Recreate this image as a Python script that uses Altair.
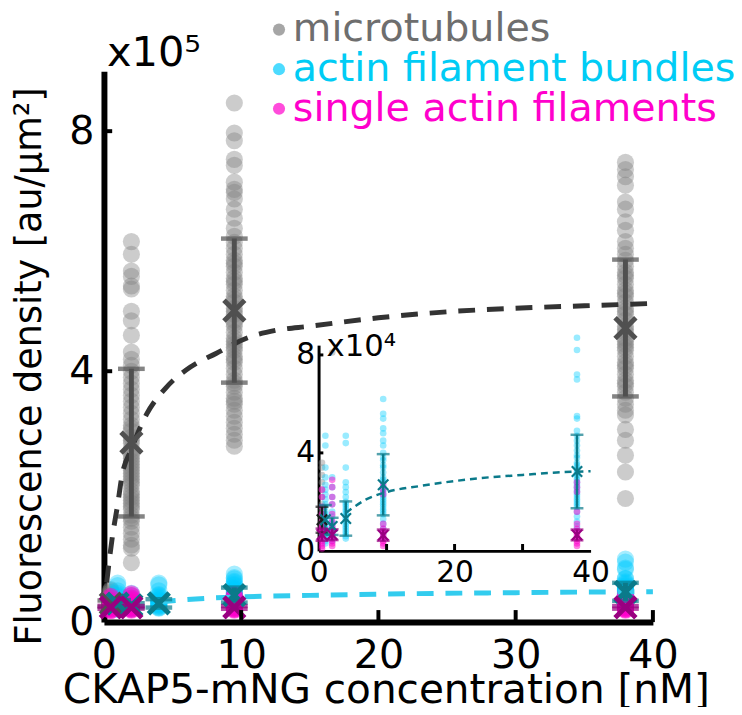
import altair as alt
import pandas as pd

FONT = "DejaVu Sans"

# ---------------- data: fluorescence density in units of 1e4 au/um^2 ----------------
series_names = ["microtubules", "actin filament bundles", "single actin filaments"]

# microtubules
mt_conc = [0.5, 2, 9.5, 38]
mt_c05 = [3.6, 3.4, 3.1, 2.8, 2.5, 2.2, 1.9, 1.7, 1.5, 1.4, 1.3, 1.2, 1.1, 1.0, 0.9, 0.8, 0.7, 0.6, 0.5]
mt_c2 = [61.6, 59.5, 56.7, 55.8, 54.2, 53.7, 50.0, 48.4, 46.0, 43.2, 42.0, 41.0, 40.0, 39.0, 38.0,
         37.0, 36.0, 35.0, 34.0, 33.0, 32.0, 31.0, 30.0, 29.0, 28.0, 27.0, 26.0, 25.0, 24.0, 23.0,
         22.0, 21.0, 20.0, 19.0, 18.0, 17.0, 16.0, 15.0, 14.0, 13.0, 12.0, 11.0, 10.5, 8.1, 28.5,
         25.5, 23.5, 21.5, 19.5, 17.5, 15.5, 26.5, 22.5, 18.5, 24.5, 30.5]
mt_c95 = [84.7, 79.7, 78.4, 75.3, 74.3, 71.5, 70.3, 69.8, 68.7, 67.0, 65.5, 63.8, 62.5, 61.5, 60.5,
          59.5, 58.5, 57.5, 56.5, 55.5, 54.5, 53.5, 52.5, 51.5, 50.5, 49.5, 48.5, 47.5, 46.5, 45.5,
          44.5, 43.5, 42.5, 41.5, 40.5, 39.5, 38.5, 37.5, 36.5, 35.5, 34.5, 33.5, 32.5, 31.5, 30.5,
          29.5, 28.5, 27.5, 55, 52, 48, 45, 42, 38, 35, 58, 50, 44]
mt_c38 = [74.8, 73.6, 72.4, 71.0, 68.2, 67.0, 64.9, 63.5, 61.6, 60.5, 59.5, 58.5, 57.5, 56.5, 55.5,
          54.5, 53.5, 52.5, 51.5, 50.5, 49.5, 48.5, 47.5, 46.5, 45.5, 44.5, 43.5, 42.5, 41.5, 40.5,
          39.5, 38.5, 37.5, 36.5, 35.5, 34.5, 33.5, 32.7, 30.3, 28.5, 26.0, 23.2, 18.8, 50, 47, 44,
          41, 53, 56, 38, 45]
mt_mean = [1.27, 28.1, 50.1, 47.2]
mt_sd = [0.53, 12.3, 12.0, 11.4]

# actin filament bundles
ab_conc = [1, 2, 4, 9.5, 38]
ab_c1 = [4.7, 4.3, 3.4, 3.0, 2.7, 2.5, 2.3, 2.1, 1.9, 1.8, 1.6, 1.5, 1.4, 1.3, 1.2, 1.1, 1.0, 0.9,
         0.8, 0.7, 0.6, 0.5, 0.4, 0.3]
ab_c2 = [3.0, 2.6, 2.2, 1.9, 1.6, 1.4, 1.2, 1.1, 1.0, 0.9, 0.8, 0.7, 0.6, 0.5, 0.4]
ab_c4 = [4.7, 4.4, 3.4, 2.8, 2.6, 2.4, 2.2, 2.0, 1.9, 1.8, 1.7, 1.6, 1.5, 1.4, 1.3, 1.2, 1.1, 1.0,
         0.9, 0.8, 0.7, 0.6, 0.5]
ab_c95 = [6.2, 5.6, 5.4, 5.0, 4.8, 4.5, 4.3, 4.0, 3.8, 3.7, 3.5, 3.4, 3.2, 3.0, 2.9, 2.8, 2.6, 2.5,
          2.4, 2.3, 2.2, 2.1, 2.0, 1.9, 1.8, 1.7, 1.6, 1.5, 1.3, 1.1, 0.9, 0.7, 0.5]
ab_c38 = [8.7, 8.2, 7.2, 7.0, 5.5, 5.4, 4.9, 4.7, 4.5, 4.3, 4.1, 3.9, 3.8, 3.6, 3.5, 3.4, 3.3, 3.2,
          3.1, 3.0, 2.9, 2.8, 2.7, 2.6, 2.5, 2.4, 2.3, 2.2, 2.1, 2.0, 1.9, 1.8, 1.6, 1.4, 1.2, 1.0, 0.8]
ab_mean = [1.27, 1.0, 1.32, 2.7, 3.24]
ab_sd = [0.6, 0.35, 0.7, 1.25, 1.5]

# single actin filaments
sf_conc = [0.5, 2, 9.5, 38]
sf_c05 = [2.5, 2.2, 1.8, 1.5, 1.2, 1.0, 0.9, 0.8, 0.7, 0.6, 0.5, 0.4, 0.3, 0.2, 0.1]
sf_c2 = [2.9, 2.6, 2.2, 1.9, 1.5, 1.2, 1.0, 0.9, 0.8, 0.7, 0.6, 0.5, 0.4, 0.3, 0.2]
sf_c95 = [2.7, 2.5, 2.3, 1.1, 0.9, 0.8, 0.7, 0.6, 0.5, 0.4, 0.3, 0.2]
sf_c38 = [2.8, 2.6, 2.4, 1.6, 1.1, 0.9, 0.8, 0.7, 0.6, 0.5, 0.4, 0.3, 0.2]
sf_mean = [0.66, 0.66, 0.64, 0.65]
sf_sd = [0.25, 0.22, 0.23, 0.22]

# fitted binding curves
fit_mt_x = [0.2, 0.6, 1.0, 1.3, 2.0, 3.1, 4.5, 6.3, 8.2, 10.5, 12.5, 15, 20, 25, 30, 35, 40]
fit_mt_y = [4.8, 12.2, 17.8, 22.4, 27.0, 32.8, 37.2, 40.7, 43.0, 45.6, 46.8, 47.5, 48.9, 49.9, 50.5, 50.9, 51.3]
fit_ab_x = [4, 5, 7, 10, 15, 20, 25, 30, 35, 40]
fit_ab_y = [1.55, 1.75, 2.1, 2.4, 2.65, 2.85, 3.0, 3.1, 3.2, 3.25]

# axis ticks
main_x_ticks = [0, 10, 20, 30, 40]
main_x_marks = [10, 20, 30, 40]
main_y_ticks = [0, 40, 80]          # shown as 0, 4, 8 (x10^5)
inset_x_ticks = [0, 20, 40]
inset_x_marks = [10, 20, 30]
inset_y_ticks = [0, 4, 8]

# ---------------- styles ----------------
point_colors = ["#808080", "#00ccff", "#ff00cc"]
label_colors = ["#6e6e6e", "#00ccf5", "#ff00cc"]
err_main_colors = {"microtubules": "#505050", "actin filament bundles": "#0b7a8a",
                   "single actin filaments": "#990080"}
err_inset_colors = {"microtubules": "#1a1a1a", "actin filament bundles": "#0b7a8a",
                    "single actin filaments": "#990080"}
XPATH = "M-1,-1L1,1M-1,1L1,-1"

# ---------------- tables ----------------
groups = [
    ("microtubules", mt_conc, [mt_c05, mt_c2, mt_c95, mt_c38], mt_mean, mt_sd),
    ("actin filament bundles", ab_conc, [ab_c1, ab_c2, ab_c4, ab_c95, ab_c38], ab_mean, ab_sd),
    ("single actin filaments", sf_conc, [sf_c05, sf_c2, sf_c95, sf_c38], sf_mean, sf_sd),
]
prow, srow = [], []
for name, concs, vals, means, sds in groups:
    for c, g, m, s in zip(concs, vals, means, sds):
        for v in g:
            prow.append({"series": name, "conc": c, "val": v})
        srow.append({"series": name, "conc": c, "mean": m, "lo": m - s, "hi": m + s})
pts = pd.DataFrame(prow)
summ = pd.DataFrame(srow)
summ["ecol"] = summ["series"].map(err_main_colors)
summ["icol"] = summ["series"].map(err_inset_colors)
fit_mt = pd.DataFrame({"x": fit_mt_x, "y": fit_mt_y})
fit_ab = pd.DataFrame({"x": fit_ab_x, "y": fit_ab_y})
annot5 = pd.DataFrame({"t": ["x10\u2075"]})
annot4 = pd.DataFrame({"t": ["x10\u2074"]})

# ---------------- main panel ----------------
W, H = 555, 557
YMIN = -1.8
xs_main = alt.Scale(domain=[0, 40], nice=False, zero=False)
ys_main = alt.Scale(domain=[YMIN, 90], nice=False, zero=False)

ax_x_main = alt.Axis(orient="bottom", values=main_x_ticks, ticks=False, grid=False, domainWidth=6,
                     domainColor="black", labelFont=FONT, labelFontSize=40, labelColor="black",
                     labelPadding=14, labelFlush=False, labelOverlap=False,
                     title="CKAP5-mNG concentration [nM]", titleFont=FONT, titleFontSize=41,
                     titleFontWeight="normal", titleColor="black", titleX=285, titleY=81,
                     titleBaseline="alphabetic")
ax_y_main = alt.Axis(orient="left", values=main_y_ticks, labelExpr="format(datum.value / 10, 'd')",
                     ticks=False, grid=False, domainWidth=6, domainColor="black", labelFont=FONT,
                     labelFontSize=40, labelColor="black", labelPadding=10, labelOverlap=False,
                     labelOffset={"condition": {"test": "datum.value == 0", "value": 11}, "value": 0},
                     title="Fluorescence density [au/\u03bcm\u00b2]", titleFont=FONT, titleFontSize=37,
                     titleFontWeight="normal", titleColor="black", titleX=-75, titleY=298,
                     titleAngle=-90, titleBaseline="middle", titleAlign="center")

lab_expr = ("datum.label == 'microtubules' ? '%s' : datum.label == 'actin filament bundles' ? '%s' : '%s'"
            % tuple(label_colors))
legend = alt.Legend(title=None, orient="none", legendX=157, legendY=-62, padding=0,
                    labelFont=FONT, labelFontSize=40, labelLimit=0,
                    labelOffset=alt.ExprRef(expr="-6"),
                    labelColor=alt.ExprRef(expr=lab_expr), symbolType="circle", symbolSize=150,
                    symbolOpacity=1, symbolStrokeWidth=0, rowPadding=0)
color_main = alt.Color("series:N", scale=alt.Scale(domain=series_names, range=point_colors),
                       legend=legend)


def main_points(name, op, first=False):
    return alt.Chart(pts[pts.series == name]).mark_circle(size=300, opacity=op).encode(
        x=alt.X("conc:Q", scale=xs_main, axis=ax_x_main if first else None),
        y=alt.Y("val:Q", scale=ys_main, axis=ax_y_main if first else None),
        color=color_main,
    )


mx = alt.X("conc:Q", scale=xs_main, axis=None)
fit_mt_main = alt.Chart(fit_mt).mark_line(color="#333333", strokeWidth=5, strokeDash=[17, 12],
                                          interpolate="monotone").encode(
    x=alt.X("x:Q", scale=xs_main, axis=None), y=alt.Y("y:Q", scale=ys_main, axis=None))
fit_ab_main = alt.Chart(fit_ab).mark_line(color="#33ccee", strokeWidth=5, strokeDash=[17, 12],
                                          interpolate="monotone").encode(
    x=alt.X("x:Q", scale=xs_main, axis=None), y=alt.Y("y:Q", scale=ys_main, axis=None))
err_main = alt.Chart(summ).mark_rule(strokeWidth=5).encode(
    x=mx, y=alt.Y("lo:Q", scale=ys_main, axis=None), y2="hi:Q",
    color=alt.Color("ecol:N", scale=None))
caps_main = alt.Chart(summ).transform_fold(["lo", "hi"], as_=["k", "cap"]).mark_tick(
    orient="horizontal", size=27, thickness=4.5).encode(
    x=mx, y=alt.Y("cap:Q", scale=ys_main, axis=None), color=alt.Color("ecol:N", scale=None))
cross_main = alt.Chart(summ).mark_point(shape=XPATH, filled=False, size=440, strokeWidth=5,
                                        opacity=1).encode(
    x=mx, y=alt.Y("mean:Q", scale=ys_main, axis=None), color=alt.Color("ecol:N", scale=None))
xt_main = alt.Chart(pd.DataFrame({"t": main_x_marks})).mark_rule(strokeWidth=4, color="black").encode(
    x=alt.X("t:Q", scale=xs_main, axis=None),
    y=alt.YDatum(YMIN, scale=ys_main, axis=None), y2=alt.Y2Datum(0.2))
yt_main = alt.Chart(pd.DataFrame({"t": main_y_ticks[1:]})).mark_rule(strokeWidth=4, color="black").encode(
    y=alt.Y("t:Q", scale=ys_main, axis=None),
    x=alt.XDatum(0, scale=xs_main, axis=None), x2=alt.X2Datum(0.6))
txt5 = alt.Chart(annot5).mark_text(align="left", baseline="alphabetic", font=FONT, fontSize=42,
                                   dx=3, dy=-5, color="black").encode(
    x=alt.XDatum(0, scale=xs_main, axis=None), y=alt.YDatum(90, scale=ys_main, axis=None), text="t:N")

main_layers = [
    main_points("microtubules", 0.4, first=True),
    main_points("actin filament bundles", 0.35),
    main_points("single actin filaments", 0.5),
    fit_mt_main, fit_ab_main, err_main, caps_main, cross_main, xt_main, yt_main, txt5,
]

# ---------------- inset panel ----------------
xs_in = alt.Scale(domain=[0, 40], range=[217, 492], nice=False, zero=False)
ys_in = alt.Scale(domain=[0, 8.4], range=[485, 277], nice=False, zero=False)
ax_x_in = alt.Axis(orient="bottom", offset=485 - H, values=inset_x_ticks, ticks=False, grid=False,
                   domainWidth=3, domainColor="black", labelFont=FONT, labelFontSize=30,
                   labelColor="black", labelPadding=7, labelFlush=False, labelOverlap=False, title=None)
ax_y_in = alt.Axis(orient="left", offset=-217, values=inset_y_ticks, ticks=False, grid=False,
                   domainWidth=3, domainColor="black", labelFont=FONT, labelFontSize=30,
                   labelColor="black", labelPadding=4, labelOverlap=False, title=None)
pts_in = pts[pts.val <= 9]
summ_in = summ[summ["hi"] <= 9]


def inset_points(name, col, op, first=False):
    return alt.Chart(pts_in[pts_in.series == name]).mark_circle(size=45, opacity=op, color=col).encode(
        x=alt.X("conc:Q", scale=xs_in, axis=ax_x_in if first else None),
        y=alt.Y("val:Q", scale=ys_in, axis=ax_y_in if first else None),
    )


ix = alt.X("conc:Q", scale=xs_in, axis=None)
fit_in = alt.Chart(fit_ab).mark_line(color="#0b7a8a", strokeWidth=2.5, strokeDash=[7, 5],
                                     interpolate="monotone").encode(
    x=alt.X("x:Q", scale=xs_in, axis=None), y=alt.Y("y:Q", scale=ys_in, axis=None))
err_in = alt.Chart(summ_in).mark_rule(strokeWidth=2.5).encode(
    x=ix, y=alt.Y("lo:Q", scale=ys_in, axis=None), y2="hi:Q", color=alt.Color("icol:N", scale=None))
caps_in = alt.Chart(summ_in).transform_fold(["lo", "hi"], as_=["k", "cap"]).mark_tick(
    orient="horizontal", size=13, thickness=2.5).encode(
    x=ix, y=alt.Y("cap:Q", scale=ys_in, axis=None), color=alt.Color("icol:N", scale=None))
cross_in = alt.Chart(summ_in).mark_point(shape=XPATH, filled=False, size=110, strokeWidth=2.2,
                                         opacity=1).encode(
    x=ix, y=alt.Y("mean:Q", scale=ys_in, axis=None), color=alt.Color("icol:N", scale=None))
xt_in = alt.Chart(pd.DataFrame({"t": inset_x_marks})).mark_rule(strokeWidth=3, color="black").encode(
    x=alt.X("t:Q", scale=xs_in, axis=None),
    y=alt.YDatum(0, scale=ys_in, axis=None), y2=alt.Y2Datum(0.28))
yt_in = alt.Chart(pd.DataFrame({"t": inset_y_ticks[1:]})).mark_rule(strokeWidth=3, color="black").encode(
    y=alt.Y("t:Q", scale=ys_in, axis=None),
    x=alt.XDatum(0, scale=xs_in, axis=None), x2=alt.X2Datum(0.7))
txt4 = alt.Chart(annot4).mark_text(align="left", baseline="alphabetic", font=FONT, fontSize=31,
                                   dx=8, dy=11, color="black").encode(
    x=alt.XDatum(0, scale=xs_in, axis=None), y=alt.YDatum(8.4, scale=ys_in, axis=None), text="t:N")

inset_layers = [
    inset_points("microtubules", "#8c8c8c", 0.45, first=True),
    inset_points("actin filament bundles", "#00ccff", 0.4),
    inset_points("single actin filaments", "#ff00cc", 0.5),
    fit_in, err_in, caps_in, cross_in, xt_in, yt_in, txt4,
]

chart = alt.layer(*main_layers, *inset_layers).resolve_scale(
    x="independent", y="independent"
).properties(
    width=W, height=H,
    autosize=alt.AutoSizeParams(type="none"),
    padding={"left": 97, "top": 60, "right": 82, "bottom": 82},
).configure_view(stroke=None)

chart.save("out.html", embed_options={"renderer": "svg", "actions": False})
